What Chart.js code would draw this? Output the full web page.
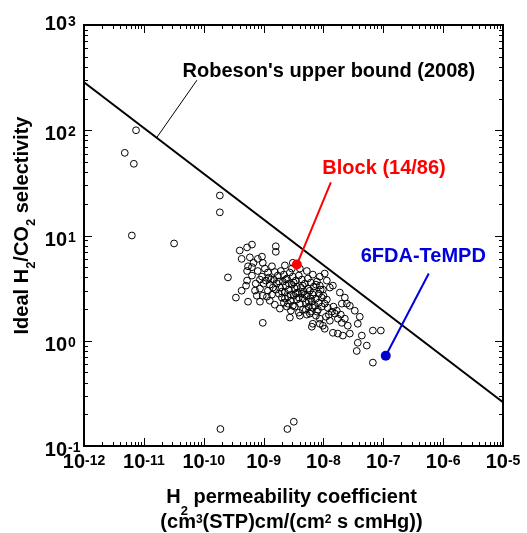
<!DOCTYPE html>
<html>
<head>
<meta charset="utf-8">
<script src="https://cdn.jsdelivr.net/npm/chart.js@4.4.1/dist/chart.umd.min.js"></script>
<style>
  html, body { margin: 0; padding: 0; background: #fff; }
</style>
</head>
<body>
<canvas id="chart" width="527" height="533"></canvas>
<script>
// H2 permeability, cm3(STP)cm/(cm2 s cmHg), and ideal H2/CO2 selectivity of the polymers
var permH2 = [
  7.4e-12, 4.8e-12, 6.8e-12, 6.3e-12, 3.2e-11, 1.86e-10, 1.86e-10, 1.9e-10, 2.5e-9, 3.2e-9,
  6.4e-10, 5.3e-10, 4.0e-10, 1.6e-9, 1.6e-9, 4.3e-10, 5.9e-10, 9.4e-10, 9.7e-10, 6.4e-10,
  5.3e-10, 2.54e-10, 5.3e-10, 7.2e-10, 3.45e-10, 5.5e-10, 8.7e-10, 9.7e-10, 3.08e-9,
  1.05e-8, 1.28e-8, 2.03e-8, 2.46e-8, 4.05e-8, 3.75e-8, 6.7e-8, 9.1e-8, 4.38e-8, 3.75e-8,
  5.3e-8, 3.6e-8, 6.7e-8, 1.44e-8, 2.11e-8, 2.76e-8, 6.65e-9, 9.8e-9, 5.93e-9, 2.55e-8,
  1.05e-8, 1.74e-8, 2.75e-9, 4.04e-9, 8.7e-9, 6.4e-9,
  1.05e-9, 1.18e-9, 1.38e-9, 1.54e-9, 1.73e-9, 1.94e-9, 2.18e-9, 2.45e-9, 2.75e-9, 3.08e-9,
  3.46e-9, 3.88e-9, 4.36e-9, 4.89e-9, 5.5e-9, 6.16e-9, 6.9e-9, 7.8e-9, 8.7e-9, 9.8e-9,
  9.4e-10, 1.09e-9, 1.27e-9, 1.49e-9, 1.67e-9, 1.87e-9, 2.1e-9, 2.36e-9, 2.64e-9, 2.97e-9,
  3.33e-9, 3.74e-9, 4.2e-9, 4.7e-9, 5.28e-9, 5.93e-9, 6.65e-9, 7.5e-9, 8.4e-9, 9.4e-9,
  1.18e-9, 1.38e-9, 1.6e-9, 1.8e-9, 2.02e-9, 2.27e-9, 2.55e-9, 2.86e-9, 3.2e-9, 3.6e-9,
  4.04e-9, 4.53e-9, 5.08e-9, 5.7e-9, 6.4e-9, 7.2e-9, 8.1e-9, 1.05e-8, 1.18e-8, 1.38e-8,
  1.27e-9, 1.54e-9, 1.87e-9, 2.18e-9, 2.45e-9, 2.86e-9, 3.33e-9, 3.88e-9, 4.53e-9, 5.28e-9,
  6.16e-9, 7.5e-9, 8.7e-9, 1.1e-8, 1.28e-8, 1.55e-8, 1.74e-8, 2.03e-8,
  8.0e-10, 7.4e-10, 8.7e-10, 9.7e-10, 6.4e-10, 6.8e-10, 8.0e-10, 5.5e-10, 5.1e-10, 4.3e-10,
  2.27e-9, 2.97e-9, 4.04e-9, 5.28e-9, 6.65e-9, 8.7e-9, 1.14e-8, 1.44e-8, 1.88e-8, 2.28e-8, 2.76e-8, 3.34e-8,
  1.22e-9, 1.43e-9, 1.8e-9, 2.02e-9, 2.36e-9, 2.64e-9, 2.86e-9, 3.2e-9, 3.6e-9, 3.88e-9,
  4.53e-9, 4.89e-9, 5.5e-9, 6.16e-9, 6.9e-9, 7.5e-9, 8.4e-9, 9.0e-9, 1.0e-8, 1.14e-8,
  1.0e-9, 1.14e-9, 1.32e-9, 2.27e-9, 2.55e-9, 3.08e-9, 3.46e-9, 4.36e-9, 5.08e-9, 5.7e-9,
  6.65e-9, 7.8e-9, 9.4e-9, 1.23e-8, 1.47e-8, 1.67e-8, 1.95e-8, 2.28e-8, 8.7e-10, 7.7e-10
];
var selectivity = [
  100, 61, 48, 10, 8.4, 24, 16.6, 0.145, 0.145, 0.17,
  8.2, 7.7, 7.2, 7.9, 7.0, 6.0, 6.2, 6.3, 5.5, 5.0,
  4.6, 4.0, 3.73, 3.0, 2.57, 2.35, 2.35, 1.48, 5.5,
  4.35, 3.2, 2.25, 2.25, 1.69, 1.45, 1.25, 1.25, 1.12, 0.957,
  0.90, 0.80, 0.62, 1.19, 1.12, 1.17, 1.45, 1.39, 1.81, 1.39,
  1.30, 1.17, 1.66, 1.73, 1.45, 1.36,
  4.85, 4.45, 5.1, 4.5, 4.16, 4.6, 4.25, 3.9, 4.45, 4.07,
  3.73, 4.16, 3.81, 3.49, 3.9, 3.57, 3.27, 3.65, 3.34, 3.06,
  4.07, 3.73, 3.41, 3.81, 3.49, 3.2, 3.65, 3.34, 3.06, 3.41,
  3.13, 2.87, 3.2, 2.93, 2.68, 2.99, 2.74, 2.51, 2.8, 2.57,
  2.99, 2.74, 3.06, 2.8, 2.57, 2.87, 2.62, 2.4, 2.68, 2.46,
  2.25, 2.51, 2.3, 2.11, 2.35, 2.15, 1.97, 2.25, 2.06, 1.89,
  2.4, 2.2, 2.02, 2.3, 2.11, 1.93, 2.11, 1.85, 1.97, 1.77,
  1.89, 1.73, 1.62, 1.69, 1.55, 1.81, 1.62, 1.48,
  4.6, 3.49, 3.13, 2.68, 4.16, 5.5, 6.0, 5.1, 3.34, 2.99,
  5.2, 4.85, 4.85, 4.6, 4.25, 4.07, 3.73, 3.34, 2.87, 2.57, 2.15, 1.93,
  3.98, 3.2, 3.65, 2.93, 3.81, 3.49, 2.74, 3.57, 3.27, 2.57,
  3.34, 2.74, 3.13, 2.51, 2.87, 3.41, 2.3, 3.06, 2.68, 2.46,
  3.49, 2.62, 3.81, 2.51, 2.25, 2.15, 2.8, 2.8, 1.97, 2.35,
  2.06, 1.89, 2.11, 1.77, 2.11, 1.93, 1.77, 1.62, 3.81, 2.68
];

// Robeson upper bound (2008), end points at the axis limits
var robesonX = [1e-12, 1e-5];
var robesonY = [286, 0.261];

// highlighted membranes
var blockX = [3.6e-9];
var blockY = [5.3];
var tempdX = [1.1e-7];
var tempdY = [0.72];

// decade exponents used for tick labels
var xDecades = [-12, -11, -10, -9, -8, -7, -6, -5];
var yDecades = [-1, 0, 1, 2, 3];

function pts(xs, ys) {
  return xs.map(function (x, i) { return { x: x, y: ys[i] }; });
}

// labels with leader lines, anchored in data units
var notes = [
  { text: "Robeson's upper bound (2008)", color: '#000', at: [1.23e-8, 318], from: [1.66e-11, 86], to: [7.7e-11, 299], width: 1 },
  { text: 'Block (14/86)', color: '#ff0000', at: [1.03e-7, 38.7], from: [blockX[0], blockY[0]], to: [1.33e-8, 32], width: 2 },
  { text: '6FDA-TeMPD', color: '#0000dd', at: [4.66e-7, 5.57], from: [tempdX[0], tempdY[0]], to: [5.75e-7, 4.35], width: 2 }
];

var FONT = '"Liberation Sans", Arial, sans-serif';

function seg(t, size, dy) { return { t: t, size: size, dy: dy || 0 }; }

function drawRich(ctx, segs, x, y, align) {
  var w = 0;
  segs.forEach(function (s) {
    ctx.font = 'bold ' + s.size + 'px ' + FONT;
    s.w = ctx.measureText(s.t).width;
    w += s.w;
  });
  var cx = align === 'center' ? x - w / 2 : (align === 'right' ? x - w : x);
  ctx.textAlign = 'left';
  ctx.textBaseline = 'alphabetic';
  segs.forEach(function (s) {
    ctx.font = 'bold ' + s.size + 'px ' + FONT;
    ctx.fillText(s.t, cx, y + s.dy);
    cx += s.w;
  });
}

var decor = {
  id: 'decor',
  beforeDatasetsDraw: function (chart) {
    var ctx = chart.ctx, a = chart.chartArea;
    var xs = chart.scales.x, ys = chart.scales.y;
    ctx.save();
    ctx.strokeStyle = '#000';
    ctx.lineWidth = 1;
    function seg2(x1, y1, x2, y2) { ctx.beginPath(); ctx.moveTo(x1, y1); ctx.lineTo(x2, y2); ctx.stroke(); }
    xDecades.forEach(function (e, i) {
      for (var m = 1; m <= 9; m++) {
        if (i === xDecades.length - 1 && m > 1) break;
        var px = Math.round(xs.getPixelForValue(m * Math.pow(10, e))) + 0.5;
        var len = m === 1 ? 8 : 4;
        seg2(px, a.bottom, px, a.bottom - len);
        seg2(px, a.top, px, a.top + len);
      }
    });
    yDecades.forEach(function (e, i) {
      for (var m = 1; m <= 9; m++) {
        if (i === yDecades.length - 1 && m > 1) break;
        var py = Math.round(ys.getPixelForValue(m * Math.pow(10, e))) + 0.5;
        var len = m === 1 ? 8 : 4;
        seg2(a.left, py, a.left + len, py);
        seg2(a.right, py, a.right - len, py);
      }
    });
    ctx.lineWidth = 2;
    ctx.strokeRect(a.left, a.top, a.right - a.left, a.bottom - a.top);
    ctx.restore();
  },
  afterDraw: function (chart) {
    var ctx = chart.ctx, a = chart.chartArea;
    var xs = chart.scales.x, ys = chart.scales.y;
    ctx.save();
    ctx.fillStyle = '#000';
    // tick labels
    xDecades.forEach(function (e) {
      var px = xs.getPixelForValue(Math.pow(10, e));
      drawRich(ctx, [seg('10', 20), seg(String(e), 14, -3)], px, a.bottom + 22, 'center');
    });
    yDecades.forEach(function (e) {
      var py = ys.getPixelForValue(Math.pow(10, e));
      var lift = e === 3 ? 5 : 0;
      drawRich(ctx, [seg('10', 20)], a.left - 17, py + 10 - lift, 'right');
      drawRich(ctx, [seg(String(e), 14, -4)], a.left - 16, py + 10 - lift, 'left');
    });
    // axis titles
    var midX = (a.left + a.right) / 2 - 2;
    drawRich(ctx, [seg('H', 20), seg('2', 13, 12), seg(' permeability coefficient', 20)], midX, a.bottom + 57, 'center');
    drawRich(ctx, [seg('(cm', 20), seg('3', 12, -5), seg('(STP)cm/(cm', 20), seg('2', 12, -5), seg(' s cmHg))', 20)], midX, a.bottom + 82, 'center');
    ctx.save();
    ctx.translate(28, (a.top + a.bottom) / 2 - 10);
    ctx.rotate(-Math.PI / 2);
    drawRich(ctx, [seg('Ideal H', 20), seg('2', 13, 7), seg('/CO', 20), seg('2', 13, 7), seg(' selectivity', 20)], 0, 0, 'center');
    ctx.restore();
    // annotation texts
    notes.forEach(function (n) {
      ctx.fillStyle = n.color;
      drawRich(ctx, [seg(n.text, 20)], xs.getPixelForValue(n.at[0]), ys.getPixelForValue(n.at[1]), 'center');
    });
    ctx.restore();
  }
};

var datasets = [
  {
    label: 'Polymers',
    data: pts(permH2, selectivity),
    pointStyle: 'circle',
    pointRadius: 3.4,
    borderWidth: 1,
    borderColor: '#000',
    backgroundColor: 'rgba(0,0,0,0)',
    order: 6
  },
  {
    type: 'line',
    label: 'Robeson 2008',
    data: pts(robesonX, robesonY),
    borderColor: '#000',
    borderWidth: 2,
    pointRadius: 0,
    fill: false,
    order: 5
  }
];
notes.forEach(function (n) {
  datasets.push({
    type: 'line',
    label: n.text + ' leader',
    data: [{ x: n.from[0], y: n.from[1] }, { x: n.to[0], y: n.to[1] }],
    borderColor: n.color,
    borderWidth: n.width,
    pointRadius: 0,
    fill: false,
    order: 3
  });
});
datasets.push({
  label: 'Block (14/86)',
  data: pts(blockX, blockY),
  pointRadius: 5,
  borderWidth: 0,
  backgroundColor: '#ff0000',
  order: 1
});
datasets.push({
  label: '6FDA-TeMPD',
  data: pts(tempdX, tempdY),
  pointRadius: 5,
  borderWidth: 0,
  backgroundColor: '#0000cc',
  order: 1
});

new Chart(document.getElementById('chart'), {
  type: 'scatter',
  data: { datasets: datasets },
  options: {
    responsive: false,
    animation: false,
    layout: { padding: { left: 84, right: 24, top: 25, bottom: 87 } },
    plugins: { legend: { display: false }, tooltip: { enabled: false } },
    scales: {
      x: { type: 'logarithmic', min: 1e-12, max: 1e-5, display: false },
      y: { type: 'logarithmic', min: 0.1, max: 1000, display: false }
    }
  },
  plugins: [decor]
});
</script>
</body>
</html>
